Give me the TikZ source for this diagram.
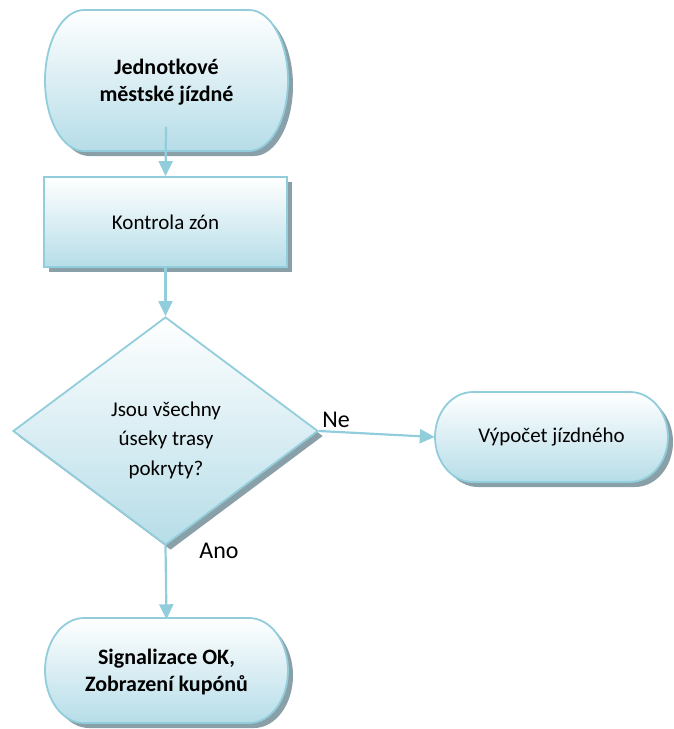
\documentclass[tikz,border=0pt]{standalone}
\usepackage{fontspec}
\setmainfont{Carlito}
\usetikzlibrary{shapes.geometric,shadows,arrows.meta}
\definecolor{edgec}{RGB}{146,205,220}
\definecolor{fillb}{RGB}{182,221,232}
\definecolor{shadc}{RGB}{138,160,168}
\newcommand{\termpath}[5]{% x1 y1 x2 y2 rx
  (#1+#5,#2) -- (#3-#5,#2) arc[start angle=90,end angle=-90,x radius=#5pt,y radius={(#4-#2)/2*1pt}]
  -- (#1+#5,#4) arc[start angle=270,end angle=90,x radius=#5pt,y radius={(#4-#2)/2*1pt}] -- cycle}
\tikzset{
  shapestyle/.style={draw=edgec, line width=1.8pt, top color=white, bottom color=fillb},
  shadstyle/.style={fill=shadc},
  conn/.style={draw=edgec, line width=2.2pt, -{Triangle[length=15pt,width=14pt]}},
  txt/.style={font=\fontsize{21}{28}\selectfont, align=center, inner sep=0pt},
  btxt/.style={font=\fontsize{22}{27}\selectfont\bfseries, align=center, inner sep=0pt},
  lbl/.style={font=\fontsize{24}{28}\selectfont, inner sep=0pt}
}
\begin{document}
\begin{tikzpicture}[x=1pt,y=-1pt]
\useasboundingbox (0,0) rectangle (673,729);
% top terminal
\fill[shadstyle] \termpath{50}{15}{293}{156}{39};
\path[shapestyle] \termpath{45}{10}{288}{151}{39};
\node[btxt, minimum width=243pt, minimum height=141pt] (start) at (166.5,82) {Jednotkové\\městské jízdné};
% box
\node[shapestyle, drop shadow={shadow xshift=5pt, shadow yshift=-5pt, fill=shadc, opacity=1},
  minimum width=243pt, minimum height=90pt, inner sep=0pt, font=\fontsize{21}{28}\selectfont] (zones) at (165.5,222) {Kontrola zón};
% diamond
\node[diamond, shapestyle, drop shadow={shadow xshift=5pt, shadow yshift=-5pt, fill=shadc, opacity=1},
  minimum width=305pt, minimum height=228pt, inner sep=0pt] (dia) at (165.5,431) {};
\node[txt, font=\fontsize{21}{29.5}\selectfont] (diatext) at (166,440) {Jsou všechny\\úseky trasy\\pokryty?};
% right terminal
\fill[shadstyle] \termpath{440}{397}{673}{487}{38};
\path[shapestyle] \termpath{435}{392}{668}{482}{38};
\node[txt, minimum width=233pt, minimum height=90pt] (calc) at (551.5,437) {Výpočet jízdného};
% bottom terminal
\fill[shadstyle] \termpath{50}{623}{293}{728}{39};
\path[shapestyle] \termpath{45}{618}{288}{723}{39};
\node[btxt, minimum width=243pt, minimum height=105pt] (endn) at (166.5,672) {Signalizace OK,\\Zobrazení kupónů};
% connectors
\coordinate (s1) at (166,127);
\draw[conn] (s1) -- (zones.north);
\draw[conn] (zones.south) -- (dia.north);
\draw[conn] (dia.east) -- (calc.west);
\draw[conn] (dia.south) -- (endn.north);
% labels
\node[lbl] (ne) at (336,420) {Ne};
\node[lbl] (ano) at (219,551) {Ano};
\end{tikzpicture}
\end{document}
